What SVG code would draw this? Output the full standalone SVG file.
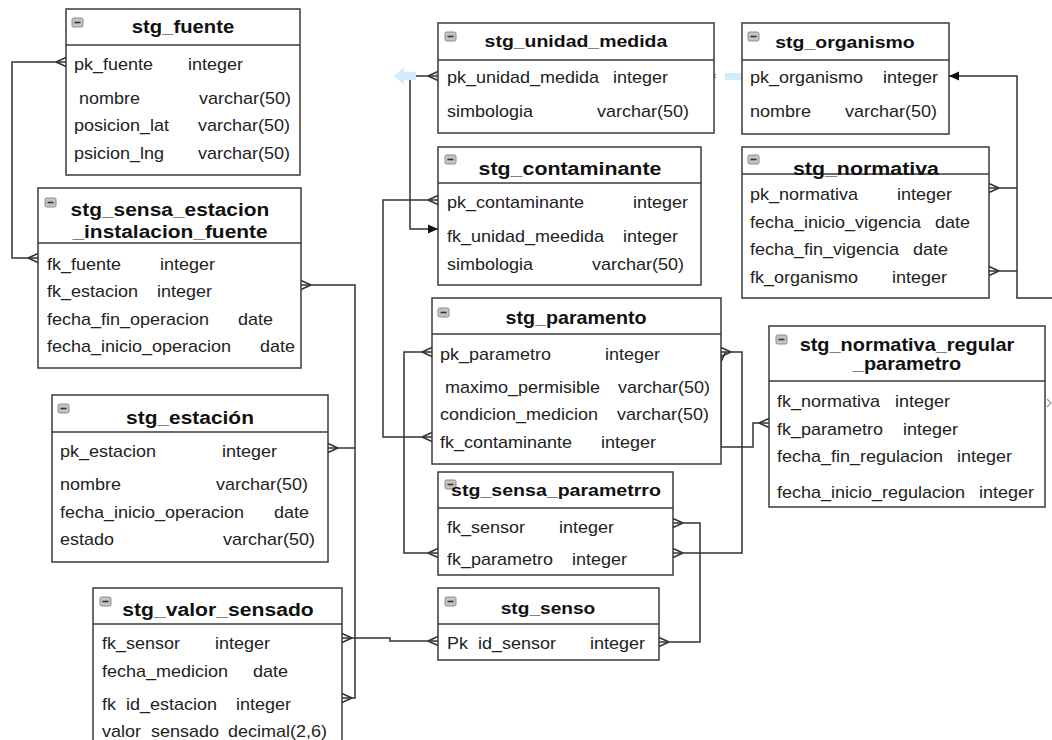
<svg xmlns="http://www.w3.org/2000/svg" xmlns:xlink="http://www.w3.org/1999/xlink" width="1052" height="740" viewBox="0 0 1052 740">
<style>
.bg{fill:#fff}
.box{fill:#fff;stroke:#3a3a3a;stroke-width:1.5}
.dv{stroke:#3a3a3a;stroke-width:1.5}
.t{font-family:"Liberation Sans",Arial,sans-serif;font-weight:bold;font-size:17px;fill:#111;text-anchor:middle;transform:scaleX(1.125);transform-box:fill-box;transform-origin:50% 50%}
.f{font-family:"Liberation Sans",Arial,sans-serif;font-size:16px;fill:#222;white-space:pre;transform:scaleX(1.125);transform-box:fill-box;transform-origin:0 50%}
.c{fill:none;stroke:#333;stroke-width:1.5;stroke-linejoin:miter}
.m{marker-start:url(#many);marker-end:url(#many)}
.ms{marker-start:url(#many)}
.sel{fill:#d3ecfb}
.selx{stroke:#4aaee0;stroke-width:1.2;fill:none}
</style>
<defs>
<marker id="many" viewBox="-11 -6 12 12" refX="0" refY="0" markerWidth="12" markerHeight="12" markerUnits="userSpaceOnUse" orient="auto-start-reverse"><path d="M-10,0 L0,-4.5 M-10,0 L0,4.5" fill="none" stroke="#333" stroke-width="1.5"/></marker>
<marker id="arr" viewBox="-11 -6 12 12" refX="0" refY="0" markerWidth="12" markerHeight="12" markerUnits="userSpaceOnUse" orient="auto"><path d="M-10,-4.5 L0,0 L-10,4.5 z" fill="#111"/></marker>
<g id="ico"><rect x="0" y="0" width="11" height="9" rx="1.5" fill="#c4c4c4" stroke="#8c8c8c" stroke-width="1"/><line x1="2.5" y1="4.5" x2="8.5" y2="4.5" stroke="#333" stroke-width="1.6"/></g>
</defs>
<rect class="bg" x="0" y="0" width="1052" height="740"/>

<g id="connectors">
<path class="c m" d="M66,62 H12 V258 H38"/>
<path class="c m" d="M301,285 H355 V698 H342"/>
<path class="c ms" d="M328,448 H355"/>
<path class="c m" d="M342,638 H390 V641 H438"/>
<path class="c ms" d="M438,76 H410 V229 H438" marker-end="url(#arr)"/>
<path class="c m" d="M438,200 H383 V437 H432"/>
<path class="c m" d="M432,352 H404 V553 H438"/>
<path class="c m" d="M721,352 H742 V553 H673"/>
<path class="c m" d="M721,352 V447 H753 V423 H769"/>
<path class="c m" d="M673,523 H700 V642 H659"/>
<path class="c" d="M1052,298 H1017 V76 H949" marker-end="url(#arr)"/>
<path class="c ms" d="M989,188 H1017"/>
<path class="c ms" d="M989,271 H1017"/>
<path d="M1047,399 L1051,403 L1047,407" fill="none" stroke="#999" stroke-width="1.2"/>
<polygon class="sel" points="394,76 404,67 404,72 416,72 416,80 404,80 404,85"/>
<polygon class="sel" points="725,73 745,73 752,76.5 745,80 725,80"/>
<path class="selx" d="M436,74 l4,4 M440,74 l-4,4 M712,74 l4,4 M716,74 l-4,4"/>
</g>

<g id="stg_fuente">
<rect class="box" x="66" y="9" width="234" height="166"/>
<line class="dv" x1="66" y1="45" x2="300" y2="45"/>
<use href="#ico" x="72" y="18"/>
<text class="t" x="183" y="33" style="font-size:18px">stg_fuente</text>
<text class="f" x="74" y="70">pk_fuente</text><text class="f" x="188" y="70">integer</text>
<text class="f" x="79" y="104">nombre</text><text class="f" x="199" y="104">varchar(50)</text>
<text class="f" x="74" y="131">posicion_lat</text><text class="f" x="198" y="131">varchar(50)</text>
<text class="f" x="74" y="159">psicion_lng</text><text class="f" x="198" y="159">varchar(50)</text>
</g>

<g id="stg_sensa_estacion_instalacion_fuente">
<rect class="box" x="38" y="188" width="263" height="180"/>
<line class="dv" x1="38" y1="243" x2="301" y2="243"/>
<use href="#ico" x="45" y="198"/>
<text class="t" x="170" y="216" style="font-size:18.6px">stg_sensa_estacion</text>
<text class="t" x="170" y="238" style="font-size:18.6px">_instalacion_fuente</text>
<text class="f" x="47" y="270">fk_fuente</text><text class="f" x="160" y="270">integer</text>
<text class="f" x="47" y="297">fk_estacion</text><text class="f" x="157" y="297">integer</text>
<text class="f" x="47" y="325">fecha_fin_operacion</text><text class="f" x="238" y="325">date</text>
<text class="f" x="47" y="352">fecha_inicio_operacion</text><text class="f" x="260" y="352">date</text>
</g>

<g id="stg_estacion">
<rect class="box" x="52" y="395" width="276" height="167"/>
<line class="dv" x1="52" y1="432" x2="328" y2="432"/>
<use href="#ico" x="58" y="404"/>
<text class="t" x="190" y="424" style="font-size:18.6px">stg_estación</text>
<text class="f" x="60" y="457">pk_estacion</text><text class="f" x="222" y="457">integer</text>
<text class="f" x="60" y="490">nombre</text><text class="f" x="216" y="490">varchar(50)</text>
<text class="f" x="60" y="518">fecha_inicio_operacion</text><text class="f" x="274" y="518">date</text>
<text class="f" x="60" y="545">estado</text><text class="f" x="223" y="545">varchar(50)</text>
</g>

<g id="stg_valor_sensado">
<rect class="box" x="93" y="588" width="249" height="160"/>
<line class="dv" x1="93" y1="624" x2="342" y2="624"/>
<use href="#ico" x="100" y="597"/>
<text class="t" x="218" y="616" style="font-size:18.8px">stg_valor_sensado</text>
<text class="f" x="102" y="649">fk_sensor</text><text class="f" x="215" y="649">integer</text>
<text class="f" x="102" y="677">fecha_medicion</text><text class="f" x="253" y="677">date</text>
<text class="f" x="102" y="710">fk  id_estacion</text><text class="f" x="236" y="710">integer</text>
<text class="f" x="102" y="737">valor  sensado</text><text class="f" x="228" y="737">decimal(2,6)</text>
</g>

<g id="stg_unidad_medida">
<rect class="box" x="438" y="23" width="276" height="110"/>
<line class="dv" x1="438" y1="60" x2="714" y2="60"/>
<use href="#ico" x="445" y="32"/>
<text class="t" x="576" y="47" style="font-size:17.3px">stg_unidad_medida</text>
<text class="f" x="447" y="83">pk_unidad_medida</text><text class="f" x="613" y="83">integer</text>
<text class="f" x="447" y="117">simbologia</text><text class="f" x="597" y="117">varchar(50)</text>
</g>

<g id="stg_contaminante">
<rect class="box" x="438" y="147" width="263" height="138"/>
<line class="dv" x1="438" y1="183" x2="701" y2="183"/>
<use href="#ico" x="445" y="155"/>
<text class="t" x="570" y="175" style="font-size:19px">stg_contaminante</text>
<text class="f" x="447" y="208">pk_contaminante</text><text class="f" x="633" y="208">integer</text>
<text class="f" x="447" y="242">fk_unidad_meedida</text><text class="f" x="623" y="242">integer</text>
<text class="f" x="447" y="270">simbologia</text><text class="f" x="592" y="270">varchar(50)</text>
</g>

<g id="stg_paramento">
<rect class="box" x="432" y="298" width="289" height="166"/>
<line class="dv" x1="432" y1="334" x2="721" y2="334"/>
<use href="#ico" x="438" y="308"/>
<text class="t" x="576" y="324" style="font-size:17.5px">stg_paramento</text>
<text class="f" x="440" y="360">pk_parametro</text><text class="f" x="605" y="360">integer</text>
<text class="f" x="445" y="393">maximo_permisible</text><text class="f" x="618" y="393">varchar(50)</text>
<text class="f" x="440" y="420">condicion_medicion</text><text class="f" x="617" y="420">varchar(50)</text>
<text class="f" x="440" y="448">fk_contaminante</text><text class="f" x="601" y="448">integer</text>
</g>

<g id="stg_sensa_parametrro">
<rect class="box" x="438" y="472" width="235" height="103"/>
<line class="dv" x1="438" y1="508" x2="673" y2="508"/>
<use href="#ico" x="445" y="480"/>
<text class="t" x="556" y="496" style="font-size:17.4px">stg_sensa_parametrro</text>
<text class="f" x="447" y="533">fk_sensor</text><text class="f" x="559" y="533">integer</text>
<text class="f" x="447" y="565">fk_parametro</text><text class="f" x="572" y="565">integer</text>
</g>

<g id="stg_senso">
<rect class="box" x="438" y="588" width="221" height="72"/>
<line class="dv" x1="438" y1="624" x2="659" y2="624"/>
<use href="#ico" x="445" y="597"/>
<text class="t" x="548" y="614">stg_senso</text>
<text class="f" x="447" y="649">Pk  id_sensor</text><text class="f" x="590" y="649">integer</text>
</g>

<g id="stg_organismo">
<rect class="box" x="742" y="23" width="207" height="111"/>
<line class="dv" x1="742" y1="60" x2="949" y2="60"/>
<use href="#ico" x="748" y="32"/>
<text class="t" x="845" y="48" style="font-size:17.3px">stg_organismo</text>
<text class="f" x="750" y="83">pk_organismo</text><text class="f" x="883" y="83">integer</text>
<text class="f" x="750" y="117">nombre</text><text class="f" x="845" y="117">varchar(50)</text>
</g>

<g id="stg_normativa">
<rect class="box" x="742" y="147" width="247" height="151"/>
<line class="dv" x1="742" y1="174" x2="989" y2="174"/>
<use href="#ico" x="748" y="155"/>
<text class="t" x="866" y="175" style="font-size:19px">stg_normativa</text>
<text class="f" x="750" y="200">pk_normativa</text><text class="f" x="897" y="200">integer</text>
<text class="f" x="750" y="228">fecha_inicio_vigencia</text><text class="f" x="935" y="228">date</text>
<text class="f" x="750" y="255">fecha_fin_vigencia</text><text class="f" x="913" y="255">date</text>
<text class="f" x="750" y="283">fk_organismo</text><text class="f" x="892" y="283">integer</text>
</g>

<g id="stg_normativa_regular_parametro">
<rect class="box" x="769" y="326" width="276" height="181"/>
<line class="dv" x1="769" y1="381" x2="1045" y2="381"/>
<use href="#ico" x="776" y="335"/>
<text class="t" x="907" y="351" style="font-size:17.7px">stg_normativa_regular</text>
<text class="t" x="907" y="370" style="font-size:17.7px">_parametro</text>
<text class="f" x="777" y="407">fk_normativa</text><text class="f" x="895" y="407">integer</text>
<text class="f" x="777" y="435">fk_parametro</text><text class="f" x="903" y="435">integer</text>
<text class="f" x="777" y="462">fecha_fin_regulacion</text><text class="f" x="957" y="462">integer</text>
<text class="f" x="777" y="498">fecha_inicio_regulacion</text><text class="f" x="979" y="498">integer</text>
</g>
</svg>
